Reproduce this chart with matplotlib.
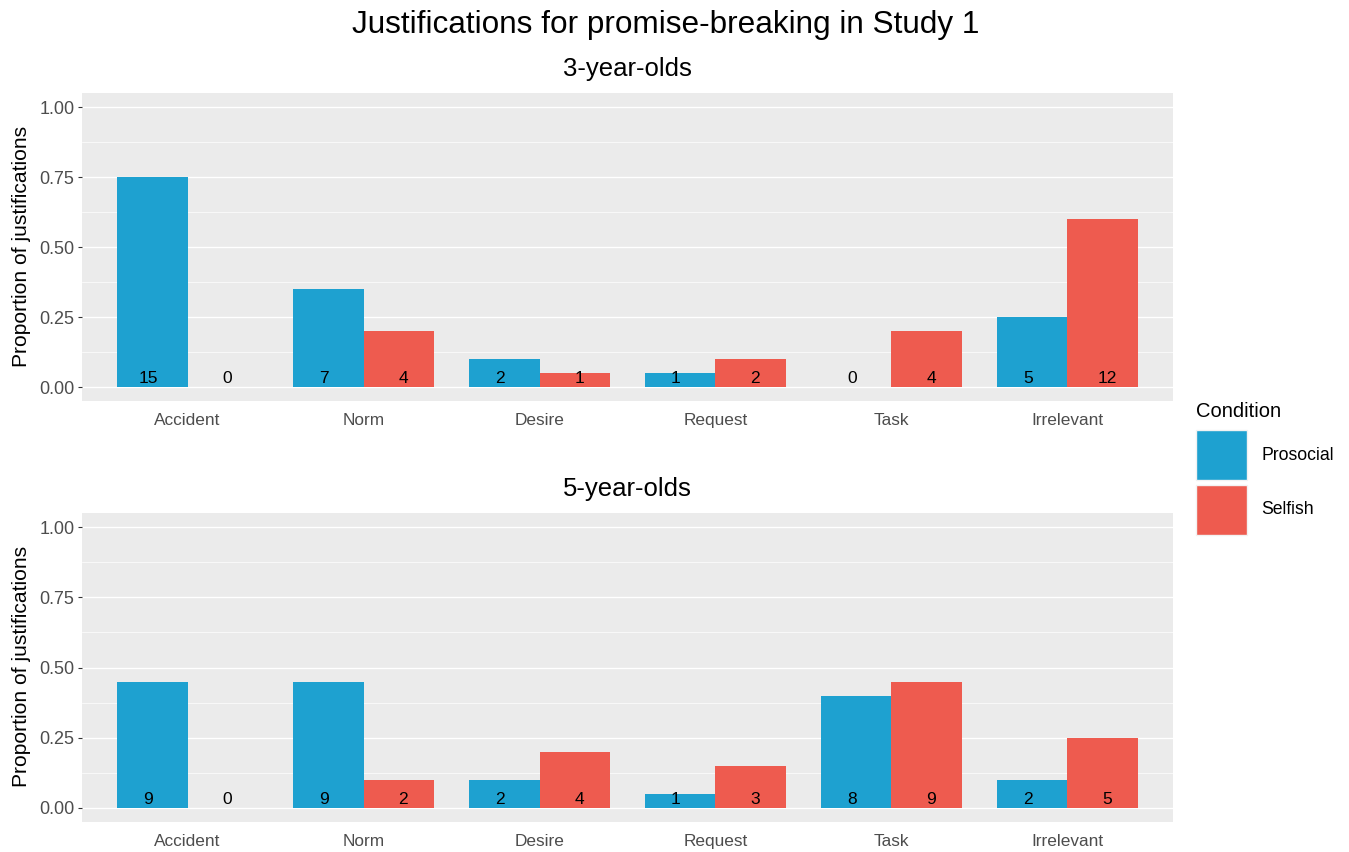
import numpy as np
import matplotlib.pyplot as plt
from matplotlib.patches import Patch

plt.rcParams['font.family'] = ['Liberation Sans', 'DejaVu Sans']

categories = ["Accident", "Norm", "Desire", "Request", "Task", "Irrelevant"]
conditions = ["Prosocial", "Selfish"]
colors = {"Prosocial": "#1EA1D0", "Selfish": "#EE5B4F"}

# proportions and counts
prop_3_prosocial = [0.75, 0.35, 0.10, 0.05, 0.00, 0.25]
prop_3_selfish = [0.00, 0.20, 0.05, 0.10, 0.20, 0.60]
count_3_prosocial = [15, 7, 2, 1, 0, 5]
count_3_selfish = [0, 4, 1, 2, 4, 12]

prop_5_prosocial = [0.45, 0.45, 0.10, 0.05, 0.40, 0.10]
prop_5_selfish = [0.00, 0.10, 0.20, 0.15, 0.45, 0.25]
count_5_prosocial = [9, 9, 2, 1, 8, 2]
count_5_selfish = [0, 2, 4, 3, 9, 5]

panels = [
    ("3-year-olds", prop_3_prosocial, prop_3_selfish, count_3_prosocial, count_3_selfish),
    ("5-year-olds", prop_5_prosocial, prop_5_selfish, count_5_prosocial, count_5_selfish),
]

W, H = 1349, 852
fig = plt.figure(figsize=(W / 100, H / 100), dpi=100)

def fx(px):
    return px / W

def fy(py):
    return 1 - py / H

# panel boxes in pixels: (left, top, right, bottom)
boxes = [(82, 93, 1173, 401), (82, 513, 1173, 822)]

x = np.arange(len(categories))
bw = 0.4      # bar width (dodge 0.8)
tdodge = 0.225  # labels dodged a little wider than the bars
for (sub, p_pro, p_sel, c_pro, c_sel), (l, t, r, b) in zip(panels, boxes):
    ax = fig.add_axes([fx(l), fy(b), fx(r) - fx(l), fy(t) - fy(b)])
    ax.set_facecolor("#EBEBEB")
    for s in ax.spines.values():
        s.set_visible(False)
    ax.set_xlim(-0.6, len(categories) - 0.4)
    ax.set_ylim(-0.05, 1.05)
    ax.set_yticks([0, 0.25, 0.5, 0.75, 1.0])
    ax.set_yticklabels(["0.00", "0.25", "0.50", "0.75", "1.00"])
    ax.set_yticks([0.125, 0.375, 0.625, 0.875], minor=True)
    ax.grid(True, axis="y", which="major", color="white", linewidth=1.0)
    ax.grid(True, axis="y", which="minor", color="white", linewidth=0.5)
    ax.set_axisbelow(True)
    ax.set_xticks(x)
    ax.set_xticklabels(categories)
    ax.tick_params(axis="y", which="major", length=3, width=0.8, color="#333333",
                   labelcolor="#4D4D4D", labelsize=13, pad=2.5)
    ax.tick_params(axis="y", which="minor", length=0)
    ax.tick_params(axis="x", length=0, labelcolor="#4D4D4D", labelsize=12.4, pad=8.5)

    ax.bar(x - bw / 2, p_pro, bw, color=colors["Prosocial"])
    ax.bar(x + bw / 2, p_sel, bw, color=colors["Selfish"])
    for i in range(len(categories)):
        ax.annotate(str(c_pro[i]), (x[i] - tdodge, 0), xytext=(0, 3), textcoords="offset points",
                    ha="center", va="baseline", fontsize=12.5, color="black")
        ax.annotate(str(c_sel[i]), (x[i] + tdodge, 0), xytext=(0, 3), textcoords="offset points",
                    ha="center", va="baseline", fontsize=12.5, color="black")

    fig.text(fx((l + r) / 2), fy(t - 17), sub, ha="center", va="baseline", fontsize=18.5)
    fig.text(fx(22), fy((t + b) / 2 - 1), "Proportion of justifications", rotation=90,
             ha="center", va="center", fontsize=15.1)

fig.text(fx(666), fy(33), "Justifications for promise-breaking in Study 1",
         ha="center", va="baseline", fontsize=22.7)

# legend: title drawn separately so its gap to the keys can match
fig.text(fx(1196), fy(417), "Condition", ha="left", va="baseline", fontsize=14.5)
handles = [Patch(facecolor=colors[c], edgecolor="#F2F2F2", linewidth=1) for c in conditions]
leg = fig.legend(handles, conditions, loc="upper left", bbox_to_anchor=(fx(1196), fy(430)),
                 frameon=False, fontsize=12.7,
                 handlelength=2.9, handleheight=4.0, handletextpad=0.8, labelspacing=0.25,
                 borderpad=0, borderaxespad=0)

fig.savefig("out.png", dpi=100)
